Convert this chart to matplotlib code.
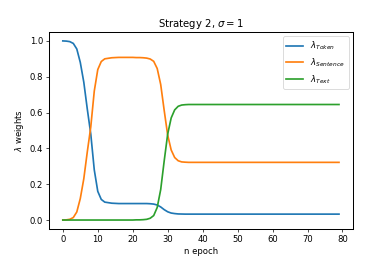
import numpy as np
import matplotlib
matplotlib.use("Agg")
import matplotlib.pyplot as plt

# lambda weights per epoch
token = [1.0, 0.999, 0.996, 0.986, 0.955, 0.88, 0.77, 0.62, 0.48, 0.28,
         0.16, 0.115, 0.10, 0.097, 0.094, 0.093, 0.092, 0.092, 0.092, 0.092,
         0.092, 0.092, 0.092, 0.092, 0.092, 0.091, 0.089, 0.084, 0.073, 0.058,
         0.046, 0.039, 0.036, 0.034, 0.0335, 0.033, 0.033, 0.033, 0.033, 0.033,
         0.033, 0.033, 0.033, 0.033, 0.033, 0.033, 0.033, 0.033, 0.033, 0.033,
         0.033, 0.033, 0.033, 0.033, 0.033, 0.033, 0.033, 0.033, 0.033, 0.033,
         0.033, 0.033, 0.033, 0.033, 0.033, 0.033, 0.033, 0.033, 0.033, 0.033,
         0.033, 0.033, 0.033, 0.033, 0.033, 0.033, 0.033, 0.033, 0.033, 0.033]

sentence = [0.0, 0.001, 0.004, 0.014, 0.045, 0.12, 0.23, 0.38, 0.52, 0.72,
            0.84, 0.885, 0.90, 0.903, 0.906, 0.907, 0.908, 0.908, 0.908, 0.908,
            0.908, 0.907, 0.907, 0.906, 0.904, 0.899, 0.886, 0.846, 0.757, 0.612,
            0.474, 0.391, 0.349, 0.331, 0.3245, 0.323, 0.322, 0.322, 0.322, 0.322,
            0.322, 0.322, 0.322, 0.322, 0.322, 0.322, 0.322, 0.322, 0.322, 0.322,
            0.322, 0.322, 0.322, 0.322, 0.322, 0.322, 0.322, 0.322, 0.322, 0.322,
            0.322, 0.322, 0.322, 0.322, 0.322, 0.322, 0.322, 0.322, 0.322, 0.322,
            0.322, 0.322, 0.322, 0.322, 0.322, 0.322, 0.322, 0.322, 0.322, 0.322]

text = [0.0, 0.0, 0.0, 0.0, 0.0, 0.0, 0.0, 0.0, 0.0, 0.0,
        0.0, 0.0, 0.0, 0.0, 0.0, 0.0, 0.0, 0.0, 0.0, 0.0,
        0.0, 0.001, 0.001, 0.002, 0.004, 0.01, 0.025, 0.07, 0.17, 0.33,
        0.48, 0.57, 0.615, 0.635, 0.642, 0.644, 0.645, 0.645, 0.645, 0.645,
        0.645, 0.645, 0.645, 0.645, 0.645, 0.645, 0.645, 0.645, 0.645, 0.645,
        0.645, 0.645, 0.645, 0.645, 0.645, 0.645, 0.645, 0.645, 0.645, 0.645,
        0.645, 0.645, 0.645, 0.645, 0.645, 0.645, 0.645, 0.645, 0.645, 0.645,
        0.645, 0.645, 0.645, 0.645, 0.645, 0.645, 0.645, 0.645, 0.645, 0.645]

epochs = np.arange(len(token))

plt.rcParams['lines.linewidth'] = 2.0
plt.rcParams['axes.linewidth'] = 1.2

fig, ax = plt.subplots(figsize=(392 / 61, 262 / 61), dpi=61)
fig.subplots_adjust(left=0.125, right=0.9, top=0.878, bottom=0.126)

ax.plot(epochs, token, label=r"$\lambda_{Token}$")
ax.plot(epochs, sentence, label=r"$\lambda_{Sentence}$")
ax.plot(epochs, text, label=r"$\lambda_{Text}$")

ax.set_xticks(np.arange(0, 90, 10))
plt.xlabel('n epoch')
plt.ylabel(r'$\lambda$ weights')
plt.title(r'Strategy 2, $\sigma = 1$')
plt.legend(loc='upper right')
plt.savefig('out.png', dpi=61)
